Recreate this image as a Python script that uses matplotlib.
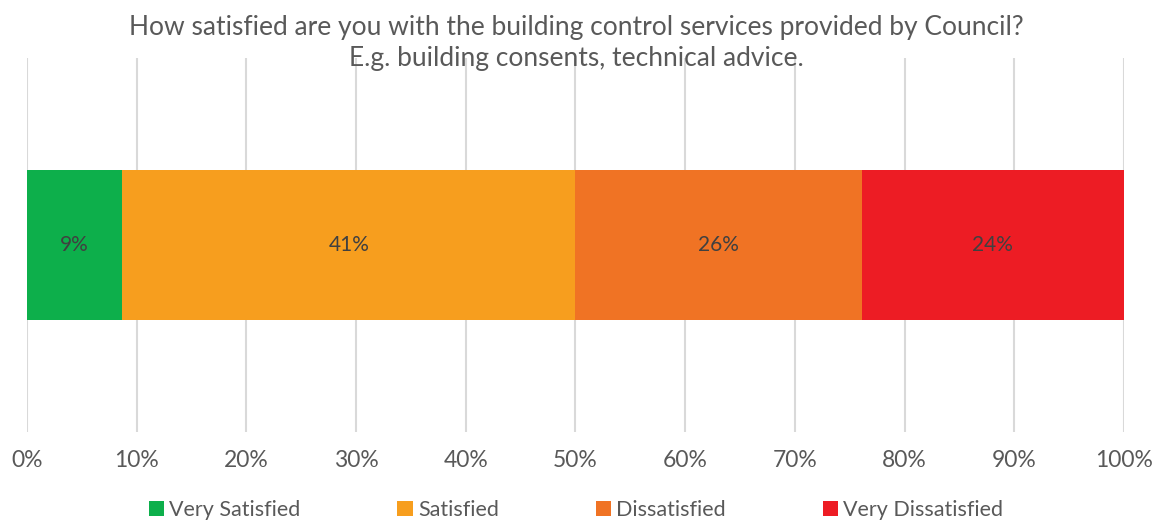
import matplotlib.pyplot as plt
from matplotlib.patches import Patch

# Response shares (%), Very Satisfied -> Very Dissatisfied
categories = ["Very Satisfied", "Satisfied", "Dissatisfied", "Very Dissatisfied"]
shares = [8.7, 41.3, 26.1, 23.9]
colors = ["#0DAF4B", "#F79E1E", "#F07324", "#ED1C24"]
ticks = list(range(0, 101, 10))
title = ("How satisfied are you with the building control services provided by Council?\n"
         "E.g. building consents, technical advice.")

plt.rcParams["font.family"] = ["Lato", "DejaVu Sans"]
grey = "#595959"

fig = plt.figure(figsize=(11.52, 5.2), dpi=100)
ax = fig.add_axes([0.0234, 0.169, 0.9523, 0.719])

left = 0
for cat, val, col in zip(categories, shares, colors):
    ax.barh(0, val, left=left, height=0.4, color=col, label=cat, zorder=2)
    ax.text(left + val / 2, 0, f"{round(val)}%", ha="center", va="center",
            fontsize=15, color="#404040", zorder=3)
    left += val

ax.set_xlim(0, 100)
ax.set_ylim(-0.5, 0.5)
ax.set_xticks(ticks)
ax.set_xticklabels([f"{t}%" for t in ticks], fontsize=16.5, color=grey)
ax.set_yticks([])
ax.tick_params(axis="x", length=0, pad=13)
ax.grid(axis="x", color="#D9D9D9", linewidth=1.5, zorder=0)
for s in ax.spines.values():
    s.set_visible(False)

fig.text(0.5, 0.972, title, ha="center", va="top", fontsize=19, color=grey,
         linespacing=1.3)

handles = [Patch(facecolor=c, label=l) for l, c in zip(categories, colors)]
fig.legend(handles=handles, loc="lower center", bbox_to_anchor=(0.5, -0.038),
           ncol=4, frameon=False, fontsize=15.5, labelcolor=grey,
           handlelength=0.7, handleheight=0.7, handletextpad=0.25,
           columnspacing=4.5)

fig.savefig("out.png", dpi=100)
